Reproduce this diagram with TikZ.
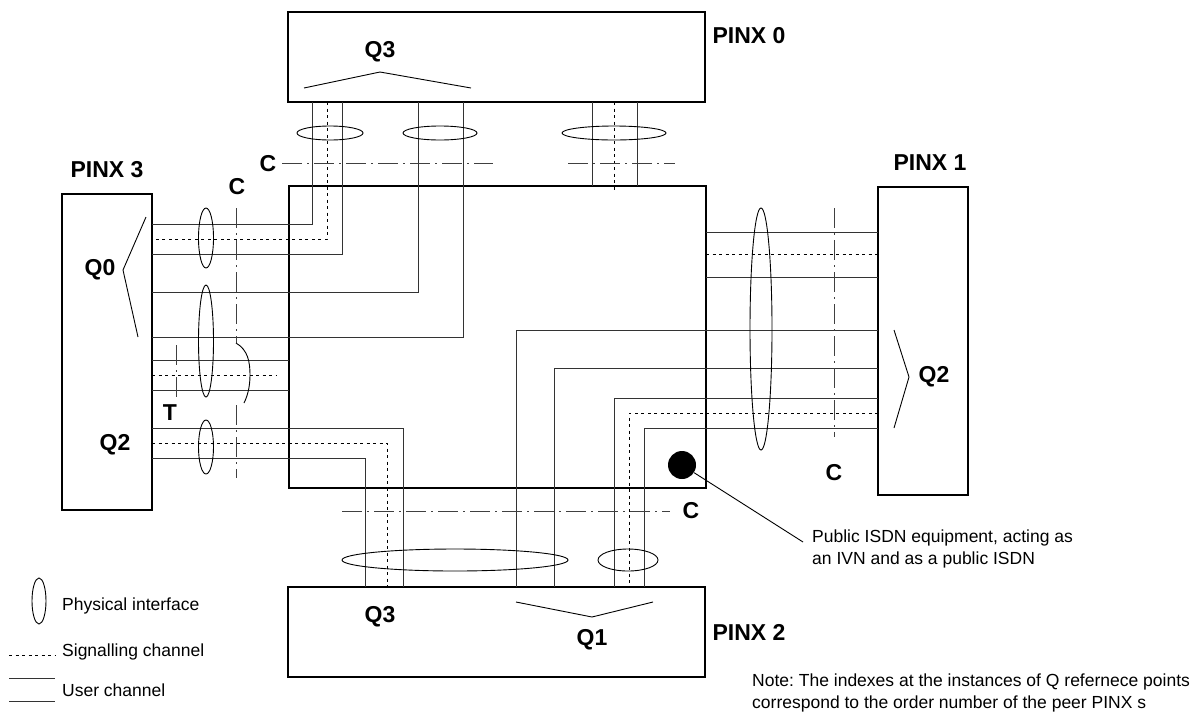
\documentclass[tikz,border=0pt]{standalone}
\usepackage{fontspec}
\setmainfont{Liberation Sans}
\usetikzlibrary{positioning}
\frenchspacing
\tikzset{
  pinx/.style={draw, line width=2.6pt, inner sep=0pt},
  uch/.style={line width=0.9pt, black!80},
  sch/.style={line width=0.9pt, dash pattern=on 3pt off 3.5pt},
  cref/.style={line width=0.9pt, black!75, dash pattern=on 20pt off 5pt on 2pt off 5pt},
  iface/.style={line width=0.9pt},
  chev/.style={line width=0.9pt},
  qlbl/.style={font=\fontsize{23}{26}\selectfont\bfseries, inner sep=0pt},
  txt/.style={font=\fontsize{17.5}{22}\selectfont, align=left, inner sep=0pt},
}

\begin{document}
\begin{tikzpicture}[x=1pt, y=-1pt]
        \useasboundingbox (0,0) rectangle (1201,713);
        % PINX boxes and the public ISDN
        \node[pinx, minimum width=417pt, minimum height=90pt] (pinx0) at (496.5,57) {};
        \node[pinx, minimum width=417pt, minimum height=302pt] (isdn) at (497.5,337) {};
        \node[pinx, minimum width=90pt, minimum height=316pt] (pinx3) at (107,352) {};
        \node[pinx, minimum width=90pt, minimum height=308pt] (pinx1) at (923,341) {};
        \node[pinx, minimum width=417pt, minimum height=90pt] (pinx2) at (496.5,632) {};
        \node[qlbl] (n0) at (749,36) {PINX 0};
        \node[qlbl] (n3) at (107,170) {PINX 3};
        \node[qlbl] (n1) at (930,163) {PINX 1};
        \node[qlbl] (n2) at (749,632) {PINX 2};

        % channels PINX 0 -- PINX 3
        \draw[uch] (312,102) |- (152,224);
        \draw[sch] (327,102) |- (152,239);
        \draw[uch] (342,102) |- (152,254);
        \draw[uch] (418,102) |- (152,292);
        \draw[uch] (463,102) |- (152,337);
        % channels PINX 0 -- ISDN
        \draw[uch] (592,102) -- (592,186);
        \draw[sch] (614,102) -- (614,192);
        \draw[uch] (637,102) -- (637,186);
        % channels PINX 3 -- ISDN
        \draw[uch] (152,360) -- (289,360);
        \draw[sch] (152,375) -- (277,375);
        \draw[uch] (152,390) -- (289,390);
        % channels PINX 3 -- PINX 2
        \draw[uch] (152,428) -| (403,587);
        \draw[sch] (152,443) -| (387,587);
        \draw[uch] (152,458) -| (365,587);
        % channels ISDN -- PINX 1
        \draw[uch] (706,232) -- (878,232);
        \draw[sch] (706,254) -- (878,254);
        \draw[uch] (706,277) -- (878,277);
        % channels PINX 1 -- PINX 2
        \draw[uch] (878,330) -| (516,587);
        \draw[uch] (878,368) -| (554,587);
        \draw[uch] (878,398) -| (614,587);
        \draw[sch] (878,413) -| (629,587);
        \draw[uch] (878,428) -| (644,587);

        % physical interfaces
        \draw[iface] (330,133) ellipse [x radius=33pt, y radius=7pt];
        \draw[iface] (440,133) ellipse [x radius=37pt, y radius=7pt];
        \draw[iface] (614,133) ellipse [x radius=52pt, y radius=7pt];
        \draw[iface] (206,238) ellipse [x radius=7.5pt, y radius=30pt];
        \draw[iface] (206,341) ellipse [x radius=7.5pt, y radius=56pt];
        \draw[iface] (206,447) ellipse [x radius=7.5pt, y radius=27pt];
        \draw[iface] (761,329) ellipse [x radius=11pt, y radius=121pt];
        \draw[iface] (455,560) ellipse [x radius=113pt, y radius=11pt];
        \draw[iface] (628,560) ellipse [x radius=30pt, y radius=11pt];

        % C and T reference lines
        \draw[cref] (282,163) -- (493,163);
        \draw[cref] (568,163) -- (675,163);
        \draw[cref] (236,208) -- (236,343);
        \draw[iface] (236,343) .. controls (248,350) and (250,362) .. (250,375)
                               .. controls (250,388) and (247,397) .. (244,403);
        \draw[cref] (236,405) -- (236,478);
        \draw[cref] (176,345) -- (176,398);
        \draw[cref] (834,208) -- (834,437);
        \draw[cref] (342,511) -- (670,511);
        \node[qlbl] (c0) at (268,164) {C};
        \node[qlbl] (c3) at (237,187) {C};
        \node[qlbl] (c1) at (834,473) {C};
        \node[qlbl] (c2) at (691,511) {C};
        \node[qlbl] (t3) at (170,413) {T};

        % Q reference points
        \draw[chev] (304,88) -- (380,72) -- (471,88);
        \node[qlbl] (q03) at (380,52) {Q3};
        \draw[chev] (146,217) -- (123,270) -- (138,337);
        \node[qlbl] (q30) at (100,270) {Q0};
        \node[qlbl] (q32) at (115,445) {Q2};
        \draw[chev] (894,330) -- (909,377) -- (894,428);
        \node[qlbl] (q12) at (934,377) {Q2};
        \node[qlbl] (q23) at (380,617) {Q3};
        \draw[chev] (516,602) -- (592,617) -- (653,602);
        \node[qlbl] (q21) at (592,640) {Q1};

        % public ISDN equipment
        \node[circle, fill, minimum size=28pt, inner sep=0pt] (equip) at (682,465) {};
        \node[txt, anchor=west] (equiptxt) at (812,549) {Public ISDN equipment, acting as\\an IVN and as a public ISDN};
        \coordinate (lead) at (803,542);
        \draw[iface] (equip) -- (lead);

        % legend
        \draw[iface] (39,601) ellipse [x radius=7pt, y radius=23pt];
        \node[txt, anchor=west] (lg1) at (62,606) {Physical interface};
        \draw[sch] (9,655) -- (55,655);
        \node[txt, anchor=west] (lg2) at (62,652) {Signalling channel};
        \draw[uch] (9,678) -- (55,678);
        \draw[uch] (9,701) -- (55,701);
        \node[txt, anchor=west] (lg3) at (62,690) {User channel};

        % note
        \node[txt, anchor=west] (note) at (752,693) {Note: The indexes at the instances of Q refernece points\\correspond to the order number of the peer PINX s};
      \end{tikzpicture}
\end{document}
